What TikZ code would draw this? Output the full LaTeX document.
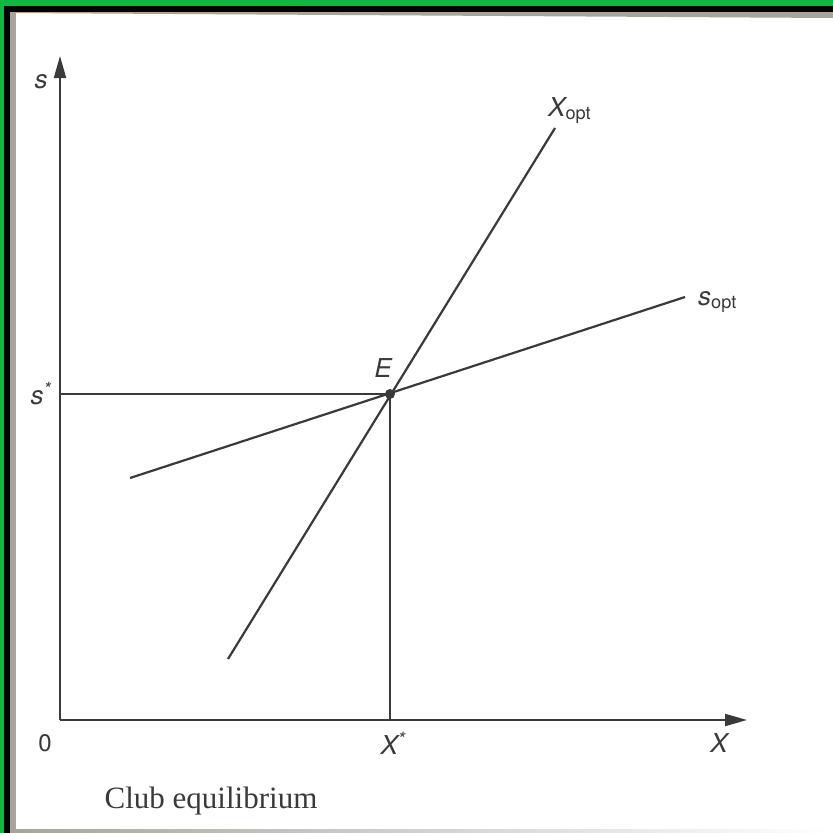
\documentclass[tikz,border=0pt]{standalone}
\usepackage{fontspec}
\setmainfont{Liberation Serif}
\setsansfont{TeX Gyre Heros}
\usetikzlibrary{arrows.meta}
\definecolor{ink}{HTML}{3A3A3A}
\definecolor{frameg}{HTML}{10B840}
\definecolor{strip}{HTML}{A8A49C}
\begin{document}
\begin{tikzpicture}[x=1pt,y=-1pt,
  ax/.style={draw=ink,line width=2pt,-{Triangle[length=22pt,width=12pt]}},
  curve/.style={draw=ink,line width=2.2pt},
  guide/.style={draw=ink,line width=1.4pt},
  lab/.style={font=\sffamily\itshape\fontsize{26}{26}\selectfont,text=ink,inner sep=0pt},
  labu/.style={font=\sffamily\fontsize{24}{24}\selectfont,text=ink,inner sep=0pt}]
\useasboundingbox (0,0) rectangle (833,833);
\fill[black] (0,0) rectangle (833,833);
\fill[frameg] (0,0) rectangle (833,6);
\fill[frameg] (0,0) rectangle (4,833);
\fill[white] (10,12) rectangle (833,833);
\fill[strip] (10,12) -- (833,12) -- (833,18) -- (10,13) -- cycle;
\fill[strip] (10,12) rectangle (16,833);
\shade[left color=strip,right color=white] (10,829) rectangle (833,833);
% axes
\coordinate (O) at (60,720);
\coordinate (ytip) at (60,56);
\coordinate (xtip) at (747,720);
\draw[ax] (O) -- (ytip);
\draw[ax] (O) -- (xtip);
% equilibrium
\coordinate (E) at (390,394);
\coordinate (sy) at (60,394);
\coordinate (xx) at (390,720);
\draw[guide] (sy) -- (E);
\draw[guide] (E) -- (xx);
% curves
\coordinate (xa) at (228,659);
\coordinate (xb) at (555,128);
\coordinate (sa) at (130,478);
\coordinate (sb) at (685,297);
\draw[curve] (xa) -- (xb);
\draw[curve] (sa) -- (sb);
\fill[ink] (E) circle (5pt);
% labels
\node[lab] (ls) at (41,82) {s};
\node[lab] (lss) at (41,394) {s\textsuperscript{*}};
\node[labu] (l0) at (45,743) {0};
\node[lab] (lxs) at (393,743) {X\textsuperscript{*}};
\node[lab] (lx) at (719,743) {X};
\node[lab] (lE) at (383,368) {E};
\node[lab,anchor=base west] (lxo) at (548,116) {X\textsubscript{\upshape opt}};
\node[lab,anchor=base west] (lso) at (698,305) {s\textsubscript{\upshape opt}};
\node[font=\fontsize{31}{31}\selectfont,text=ink,inner sep=0pt] (cap) at (211,801) {Club equilibrium};
\end{tikzpicture}
\end{document}
